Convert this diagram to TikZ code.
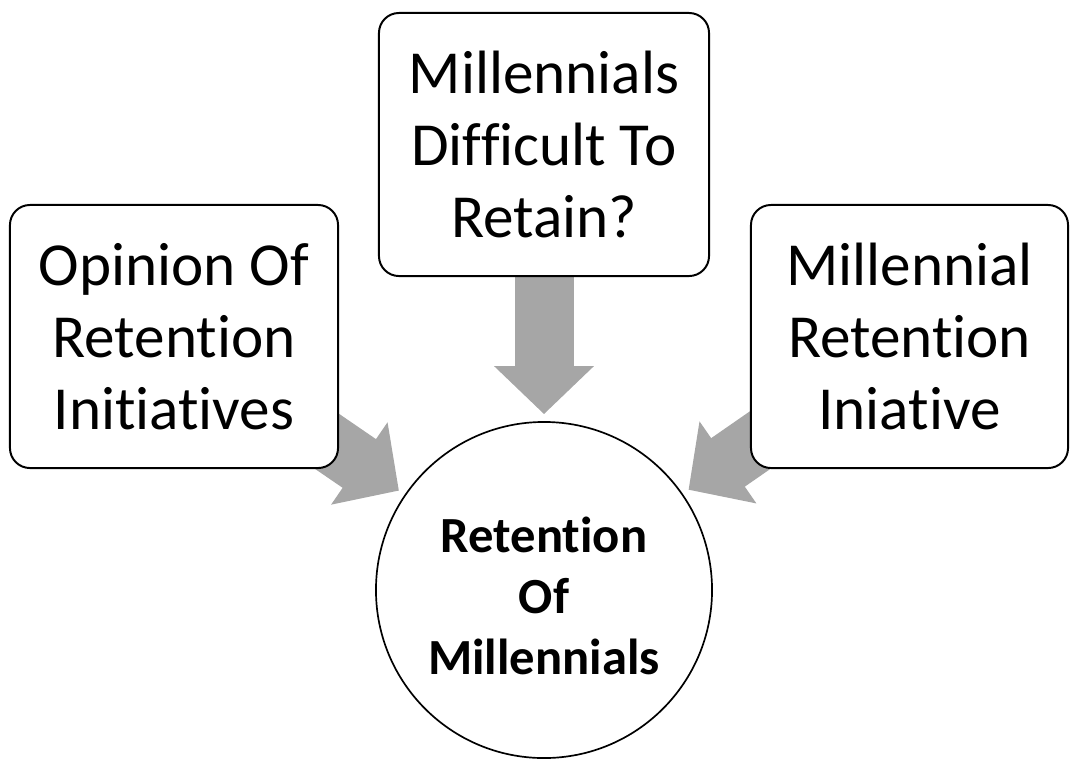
\documentclass[tikz,border=0pt]{standalone}
\usepackage{fontspec}
\setmainfont{Carlito}[Ligatures=CommonOff]
\usetikzlibrary{arrows.meta}
\usetikzlibrary{backgrounds}
\definecolor{feedgray}{RGB}{166,166,166}

\begin{document}
\begin{tikzpicture}[x=0.025cm,y=-0.025cm,
	box/.style={draw,rounded corners=0.5cm,line width=1.4pt,fill=white,align=center,inner sep=0pt,minimum height=6.575cm,font=\fontsize{43.5}{51}\selectfont},
	hub/.style={draw,circle,line width=1.2pt,fill=white,align=center,inner sep=0pt,minimum size=8.4cm,font=\fontsize{36}{43.5}\selectfont\bfseries},
	feed/.style={feedgray,line width=1.475cm,-{Triangle[length=1.2cm,width=2.425cm]},shorten >=0.175cm}]
	\useasboundingbox (0,0) rectangle (1070,764);
	\node[box,minimum width=8.2cm] (opinion) at (174,336.5) {Opinion Of\\Retention\\Initiatives};
	\node[box,minimum width=8.25cm] (difficult) at (544,144.5) {Millennials\\Difficult To\\Retain?};
	\node[box,minimum width=7.925cm] (initiative) at (909.5,336.5) {Millennial\\Retention\\Iniative};
	\node[hub] (ret) at (544,590) {\\[-0.35cm]Retention\\Of\\Millennials};
	
	\begin{scope}[on background layer]
		\draw[feed] (opinion.center) -- (ret);
		\draw[feed] (difficult.center) -- (ret);
		\draw[feed] (initiative.center) -- (ret);
	\end{scope}
\end{tikzpicture}
\end{document}
